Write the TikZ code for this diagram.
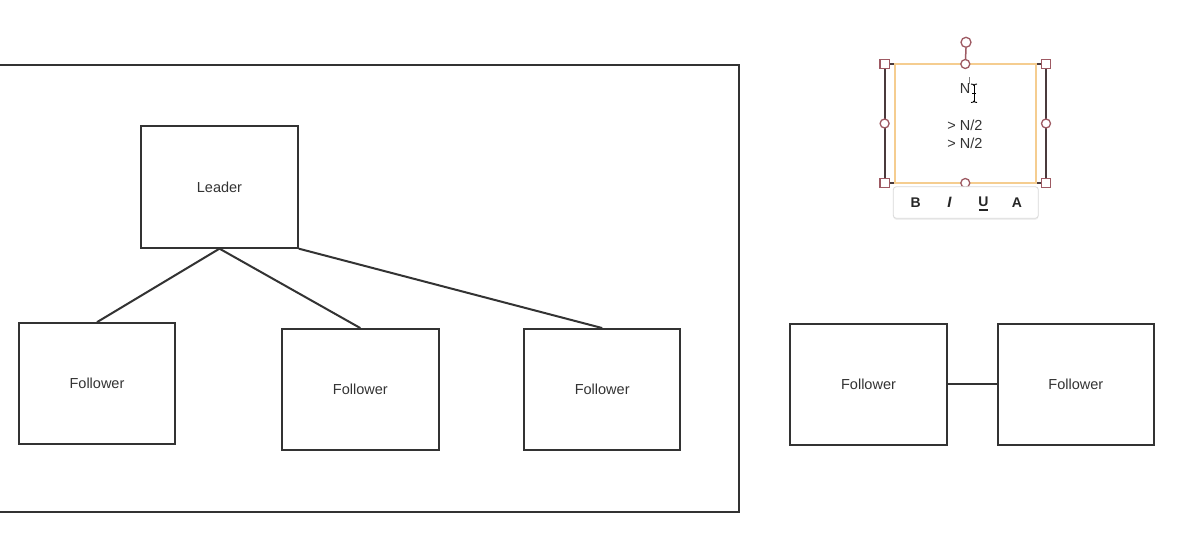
\documentclass[tikz,border=0pt]{standalone}
\usepackage{fontspec}
\setmainfont{Liberation Sans}
\usetikzlibrary{shadows}
\definecolor{ln}{HTML}{333333}
\definecolor{tx}{HTML}{333333}
\definecolor{hdl}{HTML}{9E5A63}
\definecolor{selc}{HTML}{4A3A3C}
\definecolor{orng}{HTML}{F5CD90}
\definecolor{tbar}{HTML}{DADADA}
\tikzset{
  box/.style={draw=ln, line width=2pt, minimum width=156.5pt, minimum height=121.3pt, inner sep=0pt, fill=white,
    font=\fontsize{14.5}{17}\selectfont, text=tx},
  conn/.style={draw=ln, line width=2pt},
  sqh/.style={draw=hdl, line width=1.3pt, fill=white, minimum size=9.5pt, inner sep=0pt},
  cih/.style={draw=hdl, line width=1.3pt, fill=white, circle, minimum size=9pt, inner sep=0pt},
  tb/.style={font=\fontsize{14}{16}\selectfont\bfseries, text=black!85, inner sep=0pt},
  lbl/.style={font=\fontsize{14.5}{17}\selectfont, text=tx, inner sep=0pt}
}
\begin{document}
\begin{tikzpicture}[x=1pt,y=-1pt]
\useasboundingbox (0,0) rectangle (1177,551);
\clip (0,0) rectangle (1177,551);
\fill[white] (0,0) rectangle (1177,551);
% outer frame
\node[draw=ln, line width=2pt, minimum width=749.3pt, minimum height=447.6pt, inner sep=0pt] (outer) at (364.65,288.5) {};
% nodes
\node[box] (leader) at (219.5,187) {Leader};
\node[box] (f1) at (97,383.8) {Follower};
\node[box] (f2) at (360.3,389.7) {Follower};
\node[box] (f3) at (602.2,389.7) {Follower};
\node[box] (f4) at (868.5,384.2) {Follower};
\node[box] (f5) at (1075.8,384.2) {Follower};
% connectors
\draw[conn] (leader.south) -- (f1.north);
\draw[conn] (leader.south) -- (f2.north);
\draw[conn] (leader.south east) -- (f3.north);
\draw[conn] (f4.east) -- (f5.west);
% selected shape
\node[draw=selc, line width=2pt, outer sep=0pt, minimum width=161.4pt, minimum height=119pt, inner sep=0pt] (sel) at (965.3,123.5) {};
\node[draw=orng, line width=1.5pt, minimum width=141pt, minimum height=119pt, inner sep=0pt] (txtbox) at (965.5,123.5) {};
\node[lbl] (tn) at (965,89) {N};
\node[lbl] (t1) at (965,125.7) {> N/2};
\node[lbl] (t2) at (965,143.3) {> N/2};
% caret and I-beam cursor
\coordinate (caretA) at (969.5,77);
\coordinate (caretB) at (969.5,84);
\draw[gray, line width=0.8pt] (caretA) -- (caretB);
\coordinate (ibT) at (974,85);
\coordinate (ibB) at (974,101.5);
\draw[white, line width=2.6pt] (ibT) -- (ibB);
\draw[black, line width=1pt] (ibT) -- (ibB);
\draw[black, line width=0.9pt] (971,84) .. controls (972.5,84) and (974,84.5) .. (974,85.5) .. controls (974,84.5) and (975.5,84) .. (977,84);
\draw[black, line width=0.9pt] (971,102.5) .. controls (972.5,102.5) and (974,102) .. (974,101) .. controls (974,102) and (975.5,102.5) .. (977,102.5);
\draw[black, line width=0.9pt] (972,93) -- (976,93);
% rotate handle
\node[cih, minimum size=10pt] (rot) at (966,42.3) {};
\draw[hdl, line width=1.5pt] (rot.south) -- (sel.north);
% handles
\node[sqh] (hnw) at (sel.north west) {};
\node[sqh] (hne) at (sel.north east) {};
\node[sqh] (hsw) at (sel.south west) {};
\node[sqh] (hse) at (sel.south east) {};
\node[cih] (hw) at (sel.west) {};
\node[cih] (he) at (sel.east) {};
\node[cih] (hn) at (sel.north) {};
\node[cih] (hs) at (sel.south) {};
% toolbar
\node[draw=tbar, line width=0.8pt, fill=white, rounded corners=3pt, minimum width=145pt, minimum height=31.6pt, inner sep=0pt,
  drop shadow={opacity=0.12, shadow xshift=0pt, shadow yshift=-1.5pt}] (toolbar) at (965.8,202.5) {};
\node[tb] (bB) at (915.7,202.5) {B};
\node[tb, font=\fontsize{15}{16}\selectfont\bfseries\itshape\rmfamily] (bI) at (949.5,202.5) {I};
\node[tb] (bU) at (983.3,202) {U};
\draw[black!85, line width=1.3pt] ([xshift=-4.5pt,yshift=-3pt]bU.south) -- ([xshift=4.5pt,yshift=-3pt]bU.south);
\node[tb] (bA) at (1017,202.5) {A};
\end{tikzpicture}
\end{document}
